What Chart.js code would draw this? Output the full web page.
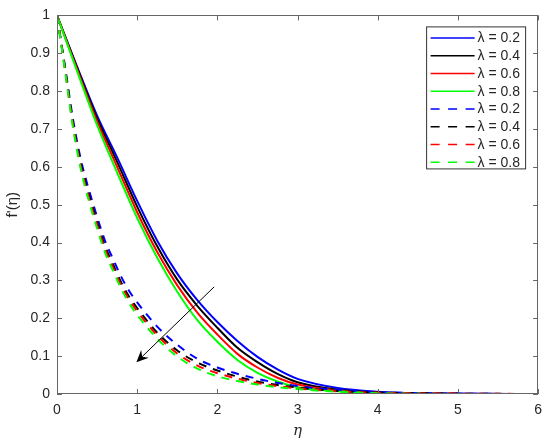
<!DOCTYPE html>
<html>
<head>
<meta charset="utf-8">
<script src="https://cdn.jsdelivr.net/npm/chart.js@4.4.1/dist/chart.umd.min.js"></script>
<style>
  html, body { margin: 0; padding: 0; background: #fff; }
  #wrap { width: 550px; height: 444px; }
</style>
</head>
<body>
<div id="wrap"><canvas id="c" width="550" height="444"></canvas></div>
<script>
// ---------- data ----------
const etaSolid = [0, 0.25, 0.5, 0.75, 1, 1.25, 1.5, 1.75, 2, 2.25, 2.5, 2.75, 3, 3.5, 4, 4.5, 5, 6];
const solidL02 = [1, 0.865, 0.735, 0.625, 0.51, 0.405, 0.318, 0.248, 0.19, 0.14, 0.098, 0.065, 0.04, 0.016, 0.006, 0.002, 0.001, 0];
const solidL04 = [1, 0.862, 0.728, 0.613, 0.495, 0.39, 0.302, 0.233, 0.175, 0.122, 0.084, 0.053, 0.031, 0.011, 0.004, 0.001, 0, 0];
const solidL06 = [1, 0.858, 0.72, 0.6, 0.48, 0.375, 0.287, 0.215, 0.157, 0.106, 0.07, 0.043, 0.025, 0.009, 0.003, 0.001, 0, 0];
const solidL08 = [1, 0.853, 0.71, 0.585, 0.465, 0.36, 0.27, 0.195, 0.138, 0.09, 0.056, 0.033, 0.018, 0.007, 0.002, 0.001, 0, 0];

const etaDashed = [0, 0.1, 0.2, 0.3, 0.4, 0.5, 0.6, 0.7, 0.8, 0.9, 1, 1.25, 1.5, 1.75, 2, 2.5, 3, 3.5, 4, 5, 6];
const dashedL02 = [1, 0.865, 0.725, 0.617, 0.538, 0.468, 0.404, 0.356, 0.31, 0.272, 0.242, 0.178, 0.13, 0.093, 0.07, 0.04, 0.021, 0.011, 0.005, 0.001, 0];
const dashedL04 = [1, 0.86, 0.715, 0.605, 0.525, 0.455, 0.39, 0.342, 0.295, 0.257, 0.227, 0.162, 0.115, 0.083, 0.062, 0.033, 0.017, 0.008, 0.004, 0.001, 0];
const dashedL06 = [1, 0.857, 0.71, 0.598, 0.517, 0.447, 0.382, 0.334, 0.287, 0.249, 0.219, 0.155, 0.107, 0.075, 0.055, 0.029, 0.015, 0.007, 0.003, 0.001, 0];
const dashedL08 = [1, 0.853, 0.703, 0.59, 0.508, 0.437, 0.373, 0.325, 0.278, 0.24, 0.209, 0.146, 0.099, 0.067, 0.047, 0.025, 0.013, 0.006, 0.002, 0, 0];

const seriesLabels = ['λ = 0.2', 'λ = 0.4', 'λ = 0.6', 'λ = 0.8', 'λ = 0.2', 'λ = 0.4', 'λ = 0.6', 'λ = 0.8'];
const xTickValues = [0, 1, 2, 3, 4, 5, 6];
const yTickValues = [0, 0.1, 0.2, 0.3, 0.4, 0.5, 0.6, 0.7, 0.8, 0.9, 1];
const xTitle = 'η';
const yTitle = "f'(η)";
// arrow annotation (data coordinates: [eta, value])
const arrowStart = [1.96, 0.283];
const arrowEnd = [0.99, 0.084];

// ---------- build datasets ----------
const colors = ['#0000ff', '#000000', '#ff0000', '#00ff00'];
const toPts = (xs, ys) => xs.map((v, i) => ({ x: v, y: ys[i] }));
const seriesY = [solidL02, solidL04, solidL06, solidL08, dashedL02, dashedL04, dashedL06, dashedL08];
const datasets = seriesY.map((ys, i) => {
  const dashed = i >= 4;
  return {
    label: seriesLabels[i],
    data: toPts(dashed ? etaDashed : etaSolid, ys),
    borderColor: colors[i % 4],
    backgroundColor: colors[i % 4],
    borderWidth: 2,
    borderDash: dashed ? [8, 7] : [],
    pointRadius: 0,
    fill: false,
    cubicInterpolationMode: 'monotone',
    order: 8 - i
  };
});

const AXIS = '#666666';
const TXT = '#262626';
const FONT = "'Liberation Sans', Arial, Helvetica, sans-serif";

const framePlugin = {
  id: 'framePlugin',
  afterDatasetsDraw(chart) {
    const { ctx, chartArea: a, scales } = chart;
    const xs = scales.x, ys = scales.y;
    ctx.save();
    // arrow
    const p0 = { x: xs.getPixelForValue(arrowStart[0]), y: ys.getPixelForValue(arrowStart[1]) };
    const p1 = { x: xs.getPixelForValue(arrowEnd[0]), y: ys.getPixelForValue(arrowEnd[1]) };
    const ang = Math.atan2(p1.y - p0.y, p1.x - p0.x);
    const L = 12, W = 5.5, notch = 8;
    const ux = Math.cos(ang), uy = Math.sin(ang);
    const nx = -uy, ny = ux;
    ctx.strokeStyle = '#000'; ctx.lineWidth = 1; ctx.setLineDash([]);
    ctx.beginPath();
    ctx.moveTo(p0.x, p0.y);
    ctx.lineTo(p1.x - ux * notch, p1.y - uy * notch);
    ctx.stroke();
    ctx.fillStyle = '#000';
    ctx.beginPath();
    ctx.moveTo(p1.x, p1.y);
    ctx.lineTo(p1.x - ux * L + nx * W, p1.y - uy * L + ny * W);
    ctx.lineTo(p1.x - ux * notch, p1.y - uy * notch);
    ctx.lineTo(p1.x - ux * L - nx * W, p1.y - uy * L - ny * W);
    ctx.closePath();
    ctx.fill();

    // box
    ctx.strokeStyle = AXIS; ctx.lineWidth = 1;
    ctx.strokeRect(Math.round(a.left) + 0.5, Math.round(a.top) + 0.5,
                   Math.round(a.right - a.left) - 1, Math.round(a.bottom - a.top) - 1);
    // inward ticks on all four sides
    const tl = 5;
    ctx.beginPath();
    xs.ticks.forEach(t => {
      const px = Math.round(xs.getPixelForValue(t.value)) + 0.5;
      ctx.moveTo(px, a.bottom); ctx.lineTo(px, a.bottom - tl);
      ctx.moveTo(px, a.top); ctx.lineTo(px, a.top + tl);
    });
    ys.ticks.forEach(t => {
      const py = Math.round(ys.getPixelForValue(t.value)) + 0.5;
      ctx.moveTo(a.left, py); ctx.lineTo(a.left + tl, py);
      ctx.moveTo(a.right, py); ctx.lineTo(a.right - tl, py);
    });
    ctx.stroke();

    // legend
    const bx = a.right - 111.5, by = a.top + 11.5, bw = 99, bh = 142;
    ctx.fillStyle = '#fff';
    ctx.fillRect(bx, by, bw, bh);
    ctx.strokeStyle = '#333'; ctx.lineWidth = 1;
    ctx.strokeRect(bx, by, bw, bh);
    ctx.font = '14px ' + FONT;
    ctx.textBaseline = 'middle';
    ctx.textAlign = 'left';
    chart.data.datasets.forEach((ds, i) => {
      const cy = by + 11 + i * 17.75;
      ctx.strokeStyle = ds.borderColor;
      ctx.lineWidth = 1.5;
      ctx.setLineDash(ds.borderDash && ds.borderDash.length ? [9, 8.5] : []);
      ctx.beginPath();
      ctx.moveTo(bx + 4, cy); ctx.lineTo(bx + 48, cy);
      ctx.stroke();
      ctx.setLineDash([]);
      ctx.fillStyle = TXT;
      ctx.fillText(ds.label, bx + 51, cy + 0.5);
    });
    ctx.restore();
  }
};

new Chart(document.getElementById('c'), {
  type: 'line',
  data: { datasets },
  options: {
    responsive: false,
    animation: false,
    events: [],
    layout: { padding: { left: 0, right: 10, top: 13, bottom: 0 } },
    plugins: { legend: { display: false }, tooltip: { enabled: false } },
    scales: {
      x: {
        type: 'linear', min: 0, max: 6,
        afterBuildTicks: s => { s.ticks = xTickValues.map(v => ({ value: v })); },
        ticks: { color: TXT, font: { family: FONT, size: 14 }, padding: 8, maxRotation: 0, autoSkip: false,
                 callback: v => String(v) },
        grid: { display: false, drawTicks: false },
        border: { display: false },
        title: { display: true, text: xTitle, color: TXT,
                 font: { family: "'DejaVu Serif', 'Liberation Serif', serif", size: 15, style: 'italic' },
                 padding: { top: 0, bottom: 4 } },
        afterFit: s => { s.height = 50; }
      },
      y: {
        type: 'linear', min: 0, max: 1,
        afterBuildTicks: s => { s.ticks = yTickValues.map(v => ({ value: v })); },
        ticks: { color: TXT, font: { family: FONT, size: 14 }, padding: 7, autoSkip: false,
                 callback: v => String(Number(v.toFixed(1))) },
        grid: { display: false, drawTicks: false },
        border: { display: false },
        title: { display: true, text: yTitle, color: TXT,
                 font: { family: FONT, size: 15 },
                 padding: { top: 4, bottom: 0 } },
        afterFit: s => { s.width = 57; }
      }
    }
  },
  plugins: [framePlugin]
});
</script>
</body>
</html>
